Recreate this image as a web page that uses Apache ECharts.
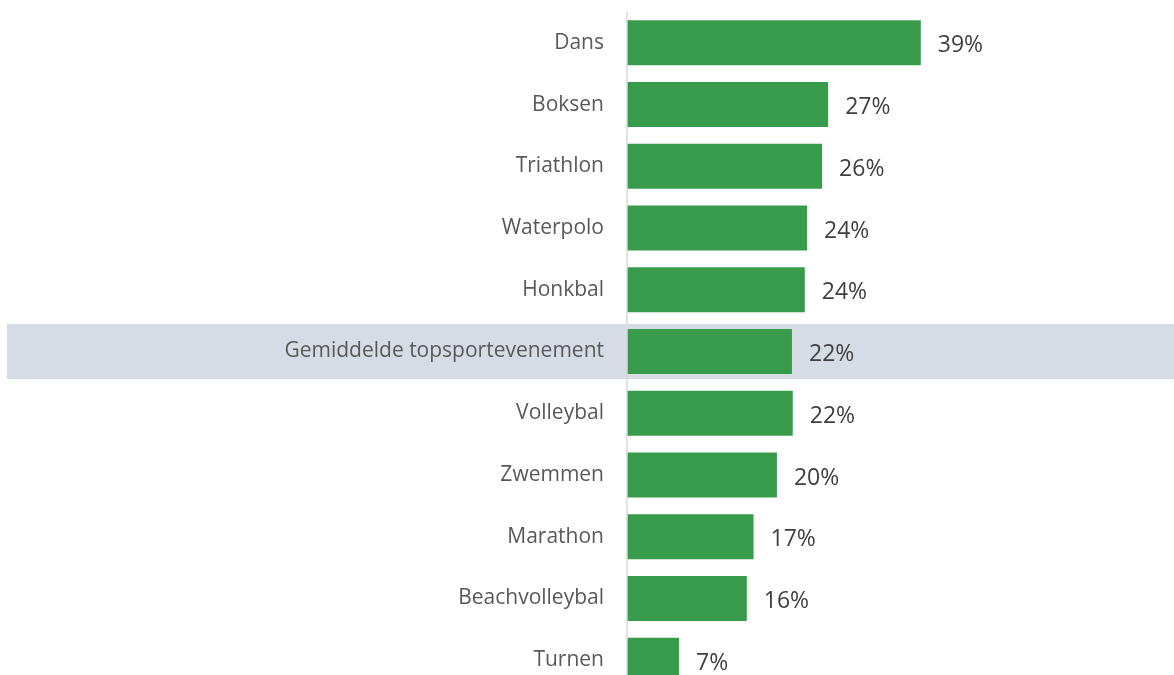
<!DOCTYPE html>
<html>
<head>
<meta charset="utf-8">
<script src="https://cdn.jsdelivr.net/npm/echarts@6/dist/echarts.min.js"></script>
<style>
  html, body { margin: 0; padding: 0; background: #fff; }
  #chart { width: 1174px; height: 675px; }
</style>
</head>
<body>
<div id="chart"></div>
<script>
// categorieën, van boven naar beneden
const categories = ['Dans', 'Boksen', 'Triathlon', 'Waterpolo', 'Honkbal', 'Gemiddelde topsportevenement',
  'Volleybal', 'Zwemmen', 'Marathon', 'Beachvolleybal', 'Turnen']
const values = [39, 26.7, 25.9, 23.9, 23.6, 21.9, 22.0, 19.9, 16.8, 15.9, 6.9]
const highlighted = ['Gemiddelde topsportevenement']

const bandData = categories.map(c => (highlighted.includes(c) ? 1 : '-'))

const chart = echarts.init(document.getElementById('chart'))

const option = {
  animation: false,
  textStyle: { fontFamily: 'Open Sans' },
  grid: [
    { left: 627, width: 452, top: 12, height: 679, outerBoundsMode: 'none' },
    { left: 7, width: 1167, top: 12, height: 679, outerBoundsMode: 'none' }
  ],
  xAxis: [
    { type: 'value', gridIndex: 0, min: 0, max: 60, show: false },
    { type: 'value', gridIndex: 1, min: 0, max: 1, show: false }
  ],
  yAxis: [
    {
      type: 'category',
      gridIndex: 0,
      inverse: true,
      data: categories,
      z: 3,
      axisLine: { show: true, lineStyle: { color: '#d9d9d9', width: 1.5 } },
      axisTick: { show: false },
      axisLabel: { color: '#595959', fontSize: 21, margin: 23, interval: 0, padding: [5, 0, 0, 0] }
    },
    {
      type: 'category',
      gridIndex: 1,
      inverse: true,
      data: categories,
      show: false
    }
  ],
  series: [
    {
      type: 'bar',
      xAxisIndex: 1,
      yAxisIndex: 1,
      data: bandData,
      barWidth: 55,
      itemStyle: { color: '#d6dce5' },
      silent: true,
      z: 1
    },
    {
      type: 'bar',
      xAxisIndex: 0,
      yAxisIndex: 0,
      data: values,
      barWidth: 45,
      itemStyle: { color: '#379b4b' },
      label: {
        show: true,
        position: 'right',
        distance: 17,
        offset: [0, 3],
        color: '#404040',
        fontSize: 23,
        formatter: p => Math.round(p.value) + '%'
      },
      z: 2
    }
  ]
}

chart.setOption(option)
</script>
</body>
</html>
